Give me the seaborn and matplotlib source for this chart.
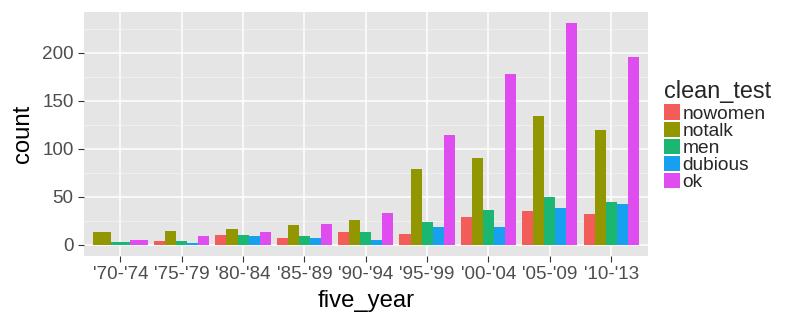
import matplotlib
matplotlib.use("Agg")
import matplotlib.pyplot as plt
from matplotlib.patches import Patch
from matplotlib.ticker import MultipleLocator
import seaborn as sns
import pandas as pd

# Counts of films per five-year window, split by Bechdel test outcome
five_year = ["'70-'74", "'75-'79", "'80-'84", "'85-'89", "'90-'94",
             "'95-'99", "'00-'04", "'05-'09", "'10-'13"]
clean_test = ["nowomen", "notalk", "men", "dubious", "ok"]

nowomen = [None, 4, 10, 7, 13, 11, 29, 35, 32]
notalk = [13, 14, 16, 20, 26, 79, 90, 134, 120]
men = [3, 4, 10, 9, 13, 24, 36, 50, 44]
dubious = [None, 2, 9, 7, 5, 18, 18, 38, 42]
ok = [5, 9, 13, 22, 33, 114, 178, 231, 196]

palette = {"nowomen": "#F25D59", "notalk": "#929600", "men": "#1AB672",
           "dubious": "#17A0F0", "ok": "#DF4CF0"}

series = {"nowomen": nowomen, "notalk": notalk, "men": men,
          "dubious": dubious, "ok": ok}
rows = []
for test, values in series.items():
    for year, v in zip(five_year, values):
        if v is not None:
            rows.append({"five_year": year, "clean_test": test, "count": v})
df = pd.DataFrame(rows)

sns.set_theme(style="darkgrid")
plt.rcParams["font.family"] = ["Liberation Sans", "DejaVu Sans"]

fig = plt.figure(figsize=(7.92, 3.24), dpi=100, facecolor="white")
W, H = 792, 324
ax = fig.add_axes([83.5 / W, (H - 255.7) / H, (648 - 83.5) / W, (255.7 - 12) / H])
ax.set_facecolor("#E5E5E5")

# Dodge within each window over the outcomes actually present there,
# so windows with missing outcomes get wider bars filling the slot.
present = df.groupby("five_year")["clean_test"].apply(
    lambda s: tuple(t for t in clean_test if t in set(s)))
for levels in present.unique():
    years = present.index[present == levels]
    sub = df[df["five_year"].isin(years)]
    sns.barplot(data=sub, x="five_year", y="count", hue="clean_test",
                order=five_year, hue_order=list(levels),
                palette={k: palette[k] for k in levels},
                width=0.9, saturation=1, errorbar=None, linewidth=0,
                legend=False, ax=ax, zorder=3)

ax.set_xlim(-0.6, len(five_year) - 0.4)
ax.set_ylim(-11.55, 242.55)
ax.yaxis.set_major_locator(MultipleLocator(50))
ax.yaxis.set_minor_locator(MultipleLocator(25))
ax.grid(which="major", color="white", linewidth=1.1, zorder=0)
ax.grid(which="minor", axis="y", color="#F2F2F2", linewidth=0.6, zorder=0)
ax.set_axisbelow(True)
for s in ax.spines.values():
    s.set_visible(False)

ax.tick_params(axis="both", which="major", length=4.1, width=0.8,
               color="#333333", labelcolor="#4D4D4D", labelsize=13.6, pad=3)
ax.tick_params(axis="both", which="minor", length=0)
ax.tick_params(axis="x", bottom=True)
ax.tick_params(axis="y", left=True)
ax.set_xlabel("five_year", fontsize=17.2, color="black", labelpad=5)
ax.set_ylabel("count", fontsize=17.2, color="black", labelpad=6)

handles = [Patch(facecolor=palette[t], edgecolor="none", label=t) for t in clean_test]
leg = fig.legend(handles=handles, title="clean_test", loc="upper left",
                 bbox_to_anchor=(664 / W, 1 - 80 / H), frameon=False,
                 fontsize=13.8, title_fontsize=16.9, handlelength=0.85,
                 handleheight=0.85, handletextpad=0.1, labelspacing=-0.06,
                 borderpad=0, borderaxespad=0)
leg._legend_box.align = "left"
leg._legend_box.sep = 1.0

fig.savefig("out.png", dpi=100, facecolor="white")
